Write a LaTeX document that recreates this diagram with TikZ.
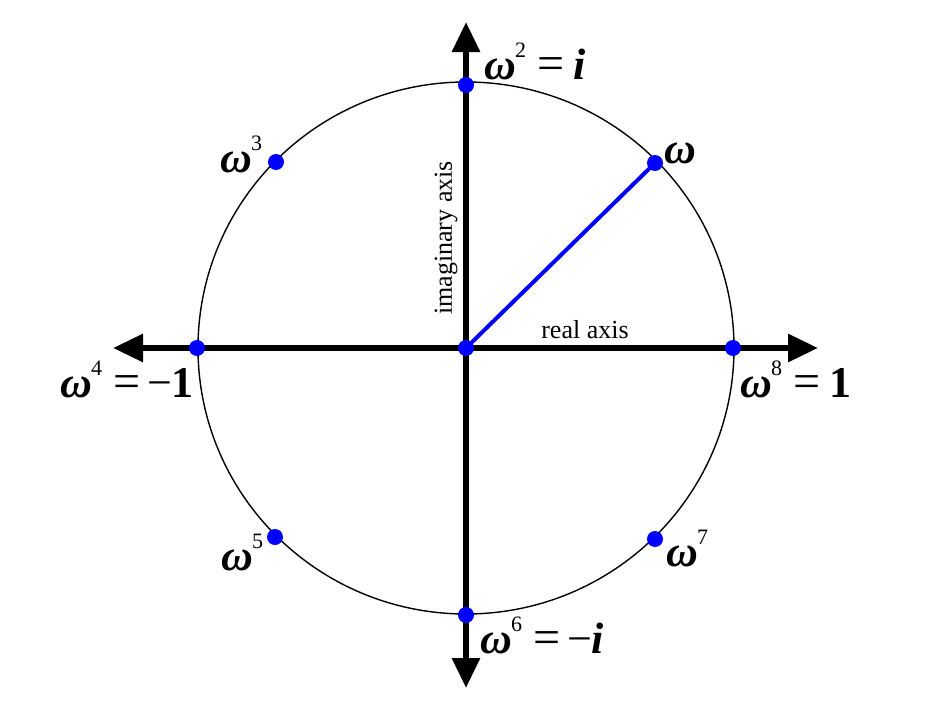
\documentclass[tikz,border=0pt]{standalone}
\usepackage{fontspec}
\setmainfont{Liberation Serif}
\usetikzlibrary{arrows.meta}
\newcommand\supx[1]{\hspace{-1pt}\raisebox{0.5em}{\fontsize{22}{22}\selectfont #1}}
\newcommand\om{{\bfseries\itshape ω}}
\newcommand\eqs{\hspace{11pt}{\fontsize{48}{48}\selectfont =}\hspace{9pt}}
\begin{document}
\begin{tikzpicture}[x=1pt,y=-1pt,
  axisline/.style={line width=6pt,{Triangle[length=30pt,width=27pt]}-{Triangle[length=30pt,width=27pt]}},
  rootdot/.style={circle,fill=blue,inner sep=0pt,minimum size=16pt},
  lab/.style={font=\fontsize{44}{44}\selectfont,inner sep=0pt,anchor=base west},
  axlab/.style={font=\fontsize{26}{26}\selectfont,inner sep=0pt}]
\useasboundingbox (0,0) rectangle (948,720);
\fill[white] (0,0) rectangle (948,720);
\coordinate (O) at (466,348);
\coordinate (L) at (113,348);
\coordinate (R) at (818,348);
\coordinate (T) at (466,22);
\coordinate (B) at (466,688);
\draw[line width=1.4pt] (O) ellipse [x radius=268, y radius=266];
\draw[axisline] (L) -- (R);
\draw[axisline] (B) -- (T);
\node[rootdot] (p0) at (733,348) {};
\node[rootdot] (p1) at (655,163) {};
\node[rootdot] (p2) at (466,85) {};
\node[rootdot] (p3) at (276,162) {};
\node[rootdot] (p4) at (197,348) {};
\node[rootdot] (p5) at (275,537) {};
\node[rootdot] (p6) at (466,615) {};
\node[rootdot] (p7) at (655,539) {};
\node[rootdot] (c) at (O) {};
\draw[blue,line width=4pt] (c.center) -- (p1.center);
\node[lab] (l2) at (484,79) {\om\supx{2}\eqs{\bfseries\itshape i}};
\node[lab] (l3) at (220,172) {\om\supx{3}};
\node[lab] (l1) at (664,163) {\om};
\node[lab] (l4) at (60,397) {\om\supx{4}\eqs\hspace{-2pt}−{\bfseries 1}};
\node[lab] (l8) at (740,397) {\om\supx{8}\eqs{\bfseries 1}};
\node[lab] (l5) at (221,570) {\om\supx{5}};
\node[lab] (l7) at (666,566) {\om\supx{7}};
\node[lab] (l6) at (480,653) {\om\supx{6}\eqs\hspace{-2pt}−{\bfseries\itshape i}};
\node[axlab] (ra) at (585,330) {real axis};
\node[axlab,rotate=90] (ia) at (446,238) {imaginary axis};
\end{tikzpicture}
\end{document}
